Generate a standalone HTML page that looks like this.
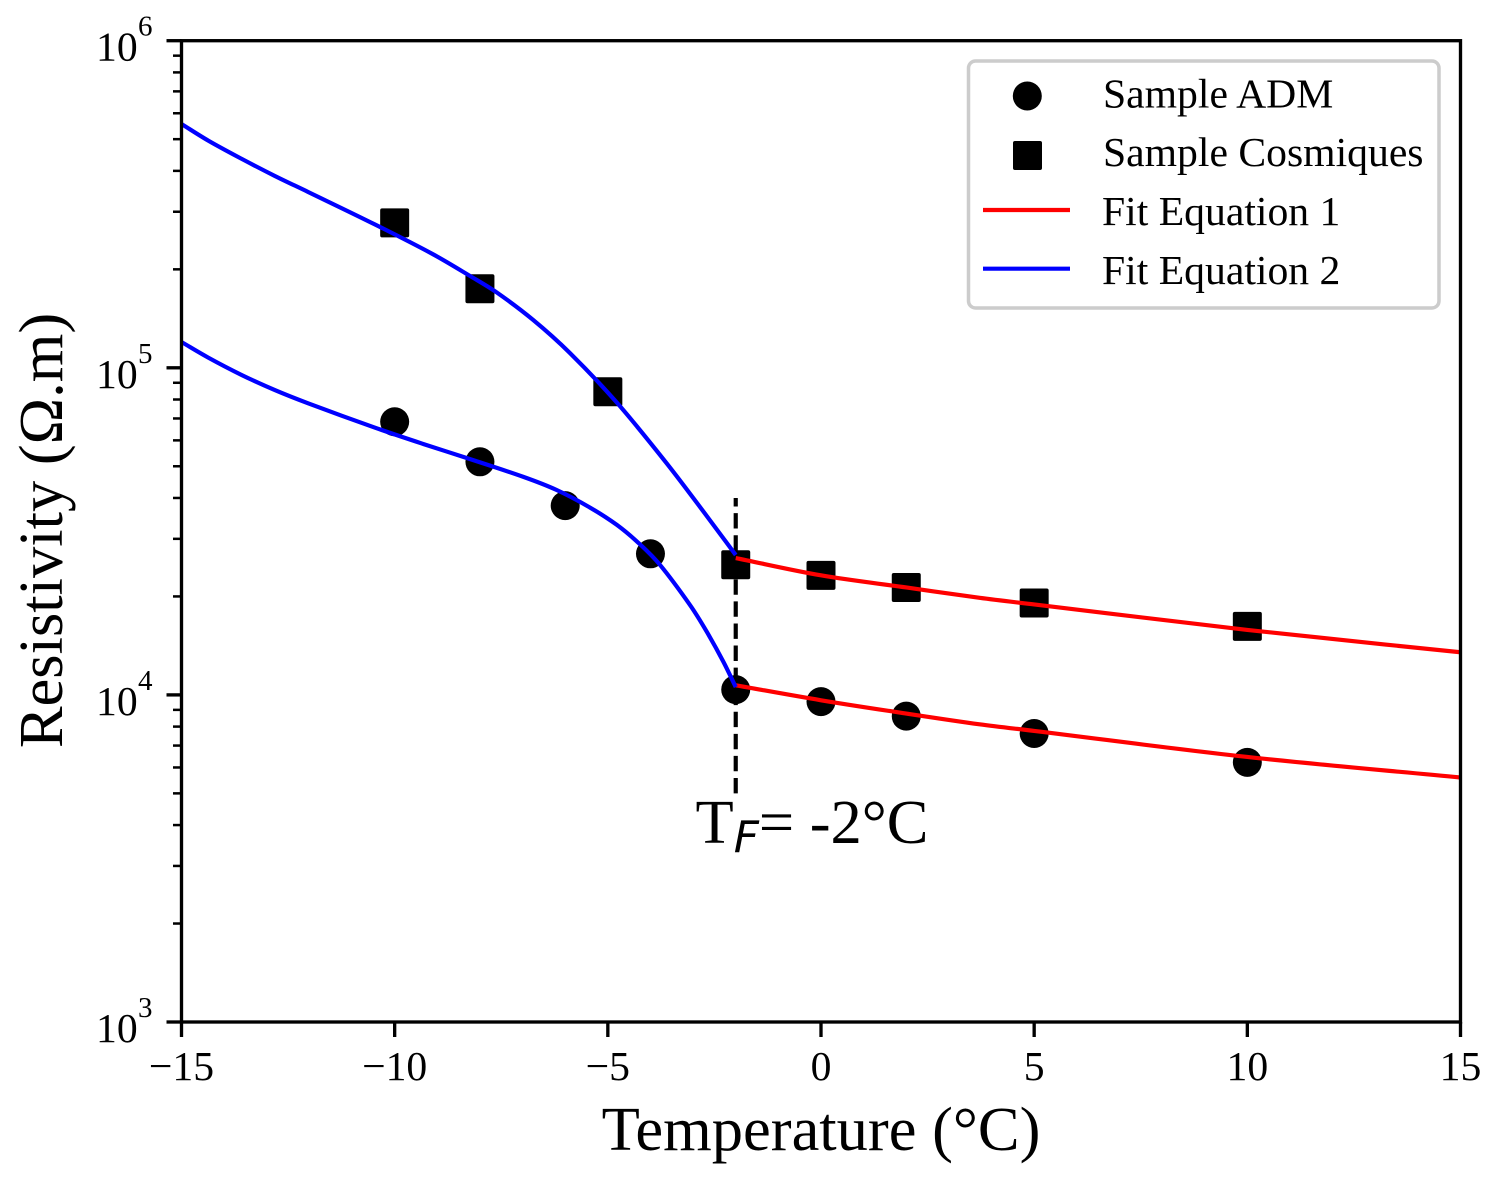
<!DOCTYPE html>
<html lang="en">
<head>
<meta charset="utf-8">
<title>Resistivity vs Temperature</title>
<style>
  html, body { margin: 0; padding: 0; background: #fff; }
  svg { display: block; }
  text { font-family: "Liberation Serif", "Times New Roman", serif; fill: #000; }
</style>
</head>
<body>
<svg id="chart" xmlns="http://www.w3.org/2000/svg" width="1494" height="1177" viewBox="0 0 1494 1177">
  <defs>
    <clipPath id="plot-clip"><rect x="181.5" y="40.7" width="1279" height="981.3"></rect></clipPath>
  </defs>
  <rect x="0" y="0" width="1494" height="1177" fill="#fff"></rect>
  <g id="markers"></g>
  <g id="lines" clip-path="url(#plot-clip)" fill="none"></g>
  <g id="ticks"></g>
  <rect x="181.5" y="40.7" width="1279" height="981.3" fill="none" stroke="#000" stroke-width="3.33"></rect>

  <text x="695.5" y="843" font-size="62.5">T<tspan dy="9" font-size="43.75" font-style="italic" style="font-family:'DejaVu Sans',sans-serif">F</tspan><tspan dy="-9">= -2°C</tspan></text>

  <text x="821" y="1150" font-size="62.5" text-anchor="middle">Temperature (°C)</text>
  <text transform="translate(62,530.5) rotate(-90)" font-size="62.5" text-anchor="middle">Resistivity (Ω.m)</text>

  <g>
    <rect x="968.5" y="61" width="470.5" height="247" rx="7" ry="7" fill="#fff" fill-opacity="0.8" stroke="#ccc" stroke-width="3.5"></rect>
    <circle cx="1027.3" cy="96" r="14.5" fill="#000"></circle>
    <rect x="1013" y="141" width="29" height="29" rx="2" fill="#000"></rect>
    <line x1="983" y1="210" x2="1070" y2="210" stroke="#f00" stroke-width="4.17"></line>
    <line x1="983" y1="268.7" x2="1070" y2="268.7" stroke="#00f" stroke-width="4.17"></line>
    <text x="1103" y="107.5" font-size="41.67">Sample ADM</text>
    <text x="1103" y="166" font-size="41.67">Sample Cosmiques</text>
    <text x="1102" y="225" font-size="41.67">Fit Equation 1</text>
    <text x="1102" y="284" font-size="41.67">Fit Equation 2</text>
  </g>
</svg>
<script>
// Chart data
const xTickValues = [-15, -10, -5, 0, 5, 10, 15];
const xTickLabels = ['\u221215', '\u221210', '\u22125', '0', '5', '10', '15'];
const yDecades = [3, 4, 5, 6];
const yMinorFactors = [2, 3, 4, 5, 6, 7, 8, 9];

const admTemps = [-10, -8, -6, -4, -2, 0, 2, 5, 10];
const admValues = [68400, 51600, 37900, 27000, 10380, 9540, 8610, 7620, 6220];
const cosmiquesTemps = [-10, -8, -5, -2, 0, 2, 5, 10];
const cosmiquesValues = [277400, 174400, 84500, 25000, 23200, 21300, 19100, 16200];

const fit2UpperTemps = [-15, -14.37, -13.59, -12.81, -12.03, -10.46, -9.09, -8.23, -7.61, -6.75, -5.89, -4.79, -3.62, -2.68, -2];
const fit2UpperValues = [556300, 494700, 435400, 385900, 344800, 274200, 222000, 190800, 170100, 140000, 111000, 78300, 51050, 35240, 26780];
const fit2LowerTemps = [-15, -14.37, -13.59, -12.81, -12.03, -10.46, -9.33, -8.31, -6.98, -6.2, -5.42, -4.79, -4.25, -3.78, -3.07, -2.68, -2.29, -2];
const fit2LowerValues = [119900, 107400, 95100, 85500, 77900, 65600, 58500, 53000, 46400, 42300, 37400, 33100, 28900, 25000, 18800, 15600, 12630, 10570];
const fit1Temps = [-2, 0, 2, 3.72, 5, 10, 15];
const fit1UpperValues = [26200, 23200, 21300, 19800, 18900, 15800, 13500];
const fit1LowerValues = [10700, 9630, 8770, 8130, 7760, 6460, 5590];

const freezingTemp = [-2];
const freezingRange = [5000, 40000];

// Axis functions
function xScale(t) { return 181.5 + (t + 15) / 30 * 1279; }
function yScale(v) { return 1022 - (Math.log10(v) - 3) / 3 * 981.3; }

const NS = 'http://www.w3.org/2000/svg';
function make(tag, attrs, parent) {
  const el = document.createElementNS(NS, tag);
  for (const k in attrs) el.setAttribute(k, attrs[k]);
  parent.appendChild(el);
  return el;
}
function smoothPath(temps, values) {
  const p = temps.map((t, i) => [xScale(t), yScale(values[i])]);
  const n = p.length;
  const slope = p.map((pt, i) => {
    const a = p[Math.max(i - 1, 0)], c = p[Math.min(i + 1, n - 1)];
    return (c[1] - a[1]) / (c[0] - a[0]);
  });
  let d = 'M' + p[0][0].toFixed(2) + ' ' + p[0][1].toFixed(2);
  for (let i = 0; i < n - 1; i++) {
    const b = p[i], c = p[i + 1], h = (c[0] - b[0]) / 3;
    d += 'C' + (b[0] + h).toFixed(2) + ' ' + (b[1] + slope[i] * h).toFixed(2) + ' ' +
         (c[0] - h).toFixed(2) + ' ' + (c[1] - slope[i + 1] * h).toFixed(2) + ' ' +
         c[0].toFixed(2) + ' ' + c[1].toFixed(2);
  }
  return d;
}

const markers = document.getElementById('markers');
const lines = document.getElementById('lines');
const ticks = document.getElementById('ticks');

admTemps.forEach((t, i) => {
  const c = make('circle', { cx: xScale(t), cy: yScale(admValues[i]), r: 14.5, fill: '#000' }, markers);
  
  
});
cosmiquesTemps.forEach((t, i) => {
  const r = make('rect', { x: xScale(t) - 14.5, y: yScale(cosmiquesValues[i]) - 14.5, width: 29, height: 29, rx: 2, fill: '#000' }, markers);
  
  
});

const dashed = make('line', { x1: xScale(freezingTemp[0]), x2: xScale(freezingTemp[0]), y1: yScale(freezingRange[0]), y2: yScale(freezingRange[1]), stroke: '#000', 'stroke-width': 4.17, 'stroke-dasharray': '15.4 6.67' }, lines);



const red1 = make('path', { d: smoothPath(fit1Temps, fit1UpperValues), stroke: '#f00', 'stroke-width': 4.17 }, lines);


const red2 = make('path', { d: smoothPath(fit1Temps, fit1LowerValues), stroke: '#f00', 'stroke-width': 4.17 }, lines);


const blue1 = make('path', { d: smoothPath(fit2UpperTemps, fit2UpperValues), stroke: '#00f', 'stroke-width': 4.17 }, lines);


const blue2 = make('path', { d: smoothPath(fit2LowerTemps, fit2LowerValues), stroke: '#00f', 'stroke-width': 4.17 }, lines);



xTickValues.forEach((t, i) => {
  const x = xScale(t);
  const tick = make('line', { x1: x, x2: x, y1: 1022, y2: 1037, stroke: '#000', 'stroke-width': 3.33 }, ticks);
  
  
  const label = make('text', { x: x, y: 1080, 'font-size': 41.67, 'text-anchor': 'middle' }, ticks);
  
  
  label.textContent = xTickLabels[i];
});

yDecades.forEach((d) => {
  const v = Math.pow(10, d);
  const y = yScale(v);
  const tick = make('line', { x1: 166.5, x2: 181.5, y1: y, y2: y, stroke: '#000', 'stroke-width': 3.33 }, ticks);
  
  
  const base = make('text', { x: 96, y: y + 20, 'font-size': 41.67 }, ticks);
  
  
  base.textContent = '10';
  const exp = make('text', { x: 138, y: y - 5, 'font-size': 29 }, ticks);
  
  
  exp.textContent = String(d);
  if (d < 6) {
    yMinorFactors.forEach((f) => {
      const my = yScale(f * v);
      const minor = make('line', { x1: 173, x2: 181.5, y1: my, y2: my, stroke: '#000', 'stroke-width': 2.5 }, ticks);
      
      
    });
  }
});
</script>
</body>
</html>
